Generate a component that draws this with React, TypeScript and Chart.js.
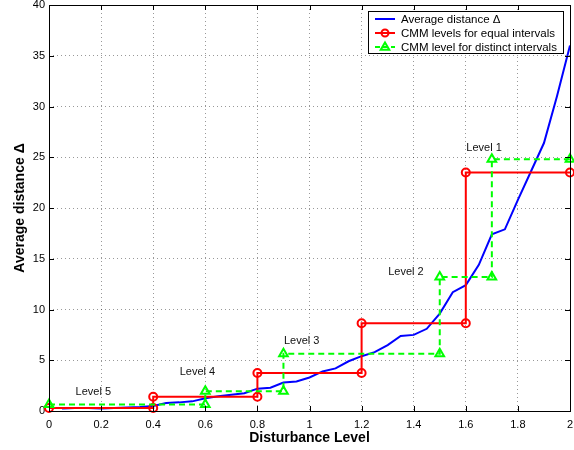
import React, { useEffect, useRef } from "react";
import { Chart, registerables } from "chart.js";

Chart.register(...registerables);

// ---- data ----
const blueX = [0.05, 0.1, 0.15, 0.2, 0.25, 0.3, 0.35, 0.4, 0.45, 0.5, 0.55, 0.6, 0.65, 0.7, 0.75, 0.8, 0.85, 0.9, 0.95, 1.0, 1.05, 1.1, 1.15, 1.2, 1.25, 1.3, 1.35, 1.4, 1.45, 1.5, 1.55, 1.6, 1.65, 1.7, 1.75, 1.8, 1.85, 1.9, 1.95, 2.0];
const blueY = [0.25, 0.3, 0.3, 0.25, 0.3, 0.35, 0.4, 0.5, 0.78, 0.85, 0.95, 1.25, 1.45, 1.6, 1.75, 2.2, 2.3, 2.8, 2.9, 3.3, 3.9, 4.2, 4.9, 5.4, 5.8, 6.5, 7.4, 7.5, 8.1, 9.6, 11.7, 12.4, 14.4, 17.4, 17.9, 20.8, 23.6, 26.4, 31.0, 36.0];

const redX = [0, 0.4, 0.4, 0.8, 0.8, 1.2, 1.2, 1.6, 1.6, 2.0];
const redY = [0.3, 0.3, 1.4, 1.4, 3.75, 3.75, 8.65, 8.65, 23.5, 23.5];

const greenX = [0, 0.6, 0.6, 0.9, 0.9, 1.5, 1.5, 1.7, 1.7, 2.0];
const greenY = [0.65, 0.65, 1.95, 1.95, 5.65, 5.65, 13.2, 13.2, 24.8, 24.8];

const levelText = ["Level 5", "Level 4", "Level 3", "Level 2", "Level 1"];
const levelX = [0.17, 0.57, 0.97, 1.37, 1.67];
const levelY = [1.9, 3.8, 6.9, 13.7, 25.9];

const xTicks = [0, 0.2, 0.4, 0.6, 0.8, 1, 1.2, 1.4, 1.6, 1.8, 2];
const xTickLabels = ["0", "0.2", "0.4", "0.6", "0.8", "1", "1.2", "1.4", "1.6", "1.8", "2"];
const yTicks = [0, 5, 10, 15, 20, 25, 30, 35, 40];

const legendLabels = [
  "Average distance \u0394",
  "CMM levels for equal intervals",
  "CMM level for distinct intervals",
];

const xTitle = "Disturbance Level";
const yTitle = "Average distance \u0394";

const BLUE = "#0000ff";
const RED = "#ff0000";
const GREEN = "#00ff00";
const FONT = "'Liberation Sans', Arial, Helvetica, sans-serif";

const zip = (xs: number[], ys: number[]) => xs.map((x, i) => ({ x, y: ys[i] }));

function drawTriangle(ctx: CanvasRenderingContext2D, x: number, y: number, r: number) {
  ctx.beginPath();
  ctx.moveTo(x, y - r);
  ctx.lineTo(x + r * 0.95, y + r * 0.6);
  ctx.lineTo(x - r * 0.95, y + r * 0.6);
  ctx.closePath();
  ctx.stroke();
}

const decorPlugin = {
  id: "decor",
  afterDraw(chart: any) {
    const ctx: CanvasRenderingContext2D = chart.ctx;
    const { left, right, top, bottom } = chart.chartArea;
    const xs = chart.scales.x;
    const ys = chart.scales.y;
    ctx.save();
    // box
    ctx.strokeStyle = "#000";
    ctx.lineWidth = 1;
    ctx.setLineDash([]);
    ctx.strokeRect(Math.round(left) + 0.5, Math.round(top) + 0.5, Math.round(right - left), Math.round(bottom - top));
    // inward ticks
    const tl = 5;
    ctx.beginPath();
    xTicks.forEach((v) => {
      const px = Math.round(xs.getPixelForValue(v)) + 0.5;
      ctx.moveTo(px, bottom);
      ctx.lineTo(px, bottom - tl);
      ctx.moveTo(px, top);
      ctx.lineTo(px, top + tl);
    });
    yTicks.forEach((v) => {
      const py = Math.round(ys.getPixelForValue(v)) + 0.5;
      ctx.moveTo(left, py);
      ctx.lineTo(left + tl, py);
      ctx.moveTo(right, py);
      ctx.lineTo(right - tl, py);
    });
    ctx.stroke();

    // level labels
    ctx.fillStyle = "#111";
    ctx.font = `11px ${FONT}`;
    ctx.textAlign = "center";
    ctx.textBaseline = "middle";
    levelText.forEach((t, i) => {
      ctx.fillText(t, xs.getPixelForValue(levelX[i]), ys.getPixelForValue(levelY[i]));
    });

    // axis titles
    ctx.fillStyle = "#000";
    ctx.font = `bold 14px ${FONT}`;
    ctx.fillText(xTitle, (left + right) / 2, 438);
    ctx.save();
    ctx.translate(20, (top + bottom) / 2);
    ctx.rotate(-Math.PI / 2);
    ctx.fillText(yTitle, 0, 0);
    ctx.restore();

    // legend
    const lx = 368, ly = 11, lw = 195, lh = 42;
    ctx.fillStyle = "#fff";
    ctx.fillRect(lx, ly, lw, lh);
    ctx.strokeStyle = "#000";
    ctx.lineWidth = 1;
    ctx.strokeRect(lx + 0.5, ly + 0.5, lw, lh);
    const rows = [19, 33, 47];
    const colors = [BLUE, RED, GREEN];
    ctx.font = `11.5px ${FONT}`;
    ctx.textAlign = "left";
    ctx.textBaseline = "middle";
    rows.forEach((ry, i) => {
      ctx.strokeStyle = colors[i];
      ctx.lineWidth = 2;
      ctx.setLineDash(i === 2 ? [5, 3] : []);
      ctx.beginPath();
      ctx.moveTo(375, ry);
      ctx.lineTo(395, ry);
      ctx.stroke();
      ctx.setLineDash([]);
      if (i === 1) {
        ctx.beginPath();
        ctx.arc(385, ry, 3.5, 0, Math.PI * 2);
        ctx.stroke();
      } else if (i === 2) {
        drawTriangle(ctx, 385, ry, 4.5);
      }
      ctx.fillStyle = "#000";
      ctx.fillText(legendLabels[i], 401, ry + 0.5);
    });
    ctx.restore();
  },
};

export default function App() {
  const ref = useRef<HTMLCanvasElement | null>(null);
  useEffect(() => {
    document.body.style.margin = "0";
    const canvas = ref.current!;
    const chart = new Chart(canvas, {
      type: "line",
      data: {
        datasets: [
          {
            label: legendLabels[0],
            data: zip(blueX, blueY),
            borderColor: BLUE,
            borderWidth: 2,
            pointRadius: 0,
            tension: 0,
            order: 3,
            clip: false as any,
          },
          {
            label: legendLabels[1],
            data: zip(redX, redY),
            borderColor: RED,
            borderWidth: 2,
            pointStyle: "circle",
            pointRadius: 4,
            pointBorderWidth: 2,
            pointBorderColor: RED,
            pointBackgroundColor: "rgba(0,0,0,0)",
            tension: 0,
            order: 2,
            clip: false as any,
          },
          {
            label: legendLabels[2],
            data: zip(greenX, greenY),
            borderColor: GREEN,
            borderWidth: 2,
            borderDash: [6, 4],
            pointStyle: "triangle",
            pointRadius: 5,
            pointBorderWidth: 2,
            pointBorderColor: GREEN,
            pointBackgroundColor: "rgba(0,0,0,0)",
            tension: 0,
            order: 1,
            clip: false as any,
          },
        ],
      },
      options: {
        responsive: false,
        animation: false,
        devicePixelRatio: 1,
        layout: { autoPadding: false, padding: { top: 5, right: 4, left: 0, bottom: 0 } },
        plugins: { legend: { display: false }, tooltip: { enabled: false } },
        scales: {
          x: {
            type: "linear",
            min: 0,
            max: 2,
            afterBuildTicks: (s: any) => {
              s.ticks = xTicks.map((v) => ({ value: v }));
            },
            afterFit: (s: any) => {
              s.height = 39;
              s.paddingLeft = 0;
              s.paddingRight = 0;
            },
            ticks: {
              autoSkip: false,
              maxRotation: 0,
              padding: 7,
              color: "#000",
              font: { family: FONT, size: 11 },
              callback: (v: any) => {
                const i = xTicks.findIndex((t) => Math.abs(t - Number(v)) < 1e-6);
                return i >= 0 ? xTickLabels[i] : "";
              },
            },
            grid: { color: "rgba(0,0,0,0.4)", lineWidth: 1, drawTicks: false },
            border: { display: false, dash: [1, 3] },
          },
          y: {
            type: "linear",
            min: 0,
            max: 40,
            afterBuildTicks: (s: any) => {
              s.ticks = yTicks.map((v) => ({ value: v }));
            },
            afterFit: (s: any) => {
              s.width = 49;
              s.paddingTop = 0;
              s.paddingBottom = 0;
            },
            ticks: {
              padding: 4,
              color: "#000",
              font: { family: FONT, size: 11 },
              callback: (v: any) => String(v),
            },
            grid: { color: "rgba(0,0,0,0.4)", lineWidth: 1, drawTicks: false },
            border: { display: false, dash: [1, 3] },
          },
        },
      },
      plugins: [decorPlugin],
    });
    return () => chart.destroy();
  }, []);
  return (
    <div style={{ position: "absolute", left: 0, top: 0, width: 574, height: 450 }}>
      <canvas ref={ref} width={574} height={450} style={{ width: 574, height: 450 }} />
    </div>
  );
}
